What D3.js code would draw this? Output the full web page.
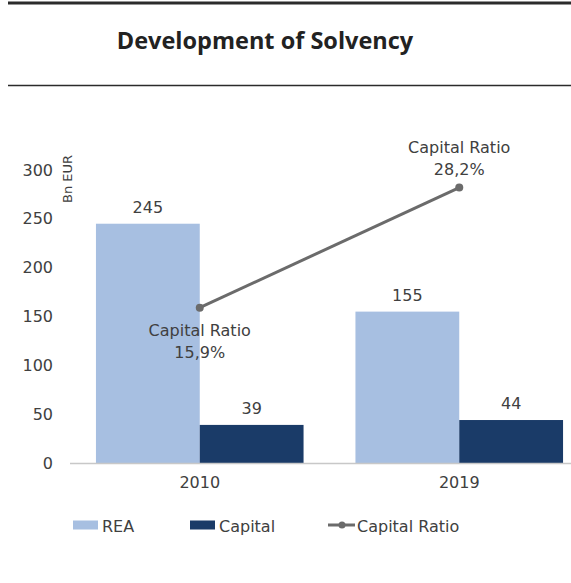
<!DOCTYPE html>
<html>
<head>
<meta charset="utf-8">
<script src="https://cdn.jsdelivr.net/npm/d3@7"></script>
<style>
  html, body { margin: 0; padding: 0; background: #fff; }
  svg { display: block; }
</style>
</head>
<body>
<div id="chart"></div>
<script>
// chart data
const categories = ['2010', '2019'];
const seriesNames = ['REA', 'Capital'];
const reaValues = [245, 155];
const capitalValues = [39, 44];
const ratioValues = [15.9, 28.2];
const ratioLabels = ['15,9%', '28,2%'];
const yTicks = [0, 50, 100, 150, 200, 250, 300];

const width = 571, height = 583;
const colors = { REA: '#a7bfe1', Capital: '#1a3b68', line: '#6b6b6b' };
const textColor = '#404040';
const font = '"DejaVu Sans", Verdana, sans-serif';

const svg = d3.select('#chart').append('svg')
  .attr('width', width)
  .attr('height', height);

// header rules + title
svg.append('line')
  .attr('x1', 8).attr('x2', width).attr('y1', 3).attr('y2', 3)
  .style('stroke', '#2b2b2b').style('stroke-width', 3);
svg.append('line')
  .attr('x1', 8).attr('x2', width).attr('y1', 85.5).attr('y2', 85.5)
  .style('stroke', '#2b2b2b').style('stroke-width', 1.5);
svg.append('text')
  .attr('x', 265).attr('y', 49)
  .attr('text-anchor', 'middle')
  .style('font-family', '"Open Sans", sans-serif')
  .style('font-weight', 'bold')
  .style('font-size', '23.5px')
  .style('fill', '#222')
  .text('Development of Solvency');

// scales
const x0 = d3.scaleBand().domain(categories).range([70, 589]).paddingInner(0.2).paddingOuter(0.1);
const x1 = d3.scaleBand().domain(seriesNames).range([0, x0.bandwidth()]);
const y = d3.scaleLinear().domain([0, 300]).range([463, 170]);
const y2 = d3.scaleLinear().domain([0, 30]).range([463, 170]);
const center = c => x0(c) + x0.bandwidth() / 2;

// y axis (labels only)
const yAxis = svg.append('g')
  .attr('transform', 'translate(58,0)')
  .call(d3.axisLeft(y).tickValues(yTicks).tickSize(0).tickPadding(5));
yAxis.select('.domain').remove();
yAxis.selectAll('text')
  .style('font-family', font).style('font-size', '16px').style('fill', textColor);

svg.append('text')
  .attr('transform', 'translate(72,179) rotate(-90)')
  .attr('text-anchor', 'middle')
  .style('font-family', font).style('font-size', '13px').style('fill', textColor)
  .text('Bn EUR');

// bars
const rows = categories.map((c, i) => ({ cat: c, values: [
  { name: 'REA', value: reaValues[i] },
  { name: 'Capital', value: capitalValues[i] }
]}));

const groups = svg.selectAll('.group')
  .data(rows)
  .enter().append('g')
  .attr('class', 'group')
  .attr('transform', d => `translate(${x0(d.cat)},0)`);

groups.selectAll('rect')
  .data(d => d.values)
  .enter().append('rect')
  .attr('x', d => x1(d.name))
  .attr('y', d => y(d.value))
  .attr('width', x1.bandwidth())
  .attr('height', d => y(0) - y(d.value))
  .style('fill', d => colors[d.name]);

groups.selectAll('.val')
  .data(d => d.values)
  .enter().append('text')
  .attr('class', 'val')
  .attr('x', d => x1(d.name) + x1.bandwidth() / 2)
  .attr('y', d => y(d.value) - 11)
  .attr('text-anchor', 'middle')
  .style('font-family', font).style('font-size', '16px').style('fill', textColor)
  .text(d => d.value);

// x axis
const xAxis = svg.append('g')
  .attr('transform', `translate(0,${y(0)})`)
  .call(d3.axisBottom(x0).tickSize(0).tickPadding(14));
xAxis.select('.domain').remove();
xAxis.selectAll('text')
  .style('font-family', font).style('font-size', '16px').style('fill', textColor);
svg.append('line')
  .attr('x1', 70).attr('x2', width).attr('y1', y(0) + 0.5).attr('y2', y(0) + 0.5)
  .style('stroke', '#c8c8c8').style('stroke-width', 1.5);

// capital ratio line
const ratioData = categories.map((c, i) => ({ cat: c, value: ratioValues[i], label: ratioLabels[i] }));
const line = d3.line().x(d => center(d.cat)).y(d => y2(d.value));
svg.append('path')
  .datum(ratioData)
  .attr('d', line)
  .style('fill', 'none')
  .style('stroke', colors.line)
  .style('stroke-width', 3);
svg.selectAll('.pt')
  .data(ratioData)
  .enter().append('circle')
  .attr('class', 'pt')
  .attr('cx', d => center(d.cat))
  .attr('cy', d => y2(d.value))
  .attr('r', 4)
  .style('fill', colors.line);

// ratio labels: first below the point, second above
const ratioLabel = svg.selectAll('.rl')
  .data(ratioData)
  .enter().append('text')
  .attr('class', 'rl')
  .attr('text-anchor', 'middle')
  .style('font-family', font).style('font-size', '16px').style('fill', textColor);
ratioLabel.append('tspan')
  .attr('x', d => center(d.cat))
  .attr('y', (d, i) => i === 0 ? y2(d.value) + 28 : y2(d.value) - 35)
  .text('Capital Ratio');
ratioLabel.append('tspan')
  .attr('x', d => center(d.cat))
  .attr('dy', 22)
  .text(d => d.label);

// legend
const legend = svg.append('g').attr('transform', 'translate(0,525)');
const legendItems = [
  { name: 'REA', x: 73, type: 'rect' },
  { name: 'Capital', x: 190, type: 'rect' },
  { name: 'Capital Ratio', x: 328, type: 'line' }
];
legendItems.forEach(it => {
  if (it.type === 'rect') {
    legend.append('rect')
      .attr('x', it.x).attr('y', -4.5).attr('width', 25).attr('height', 9)
      .style('fill', colors[it.name]);
  } else {
    legend.append('line')
      .attr('x1', it.x).attr('x2', it.x + 27).attr('y1', 0).attr('y2', 0)
      .style('stroke', colors.line).style('stroke-width', 3);
    legend.append('circle')
      .attr('cx', it.x + 14).attr('cy', 0).attr('r', 3.5)
      .style('fill', colors.line);
  }
  legend.append('text')
    .attr('x', it.x + 29)
    .attr('y', 6.5)
    .style('font-family', font).style('font-size', '16px').style('fill', textColor)
    .text(it.name);
});
</script>
</body>
</html>
